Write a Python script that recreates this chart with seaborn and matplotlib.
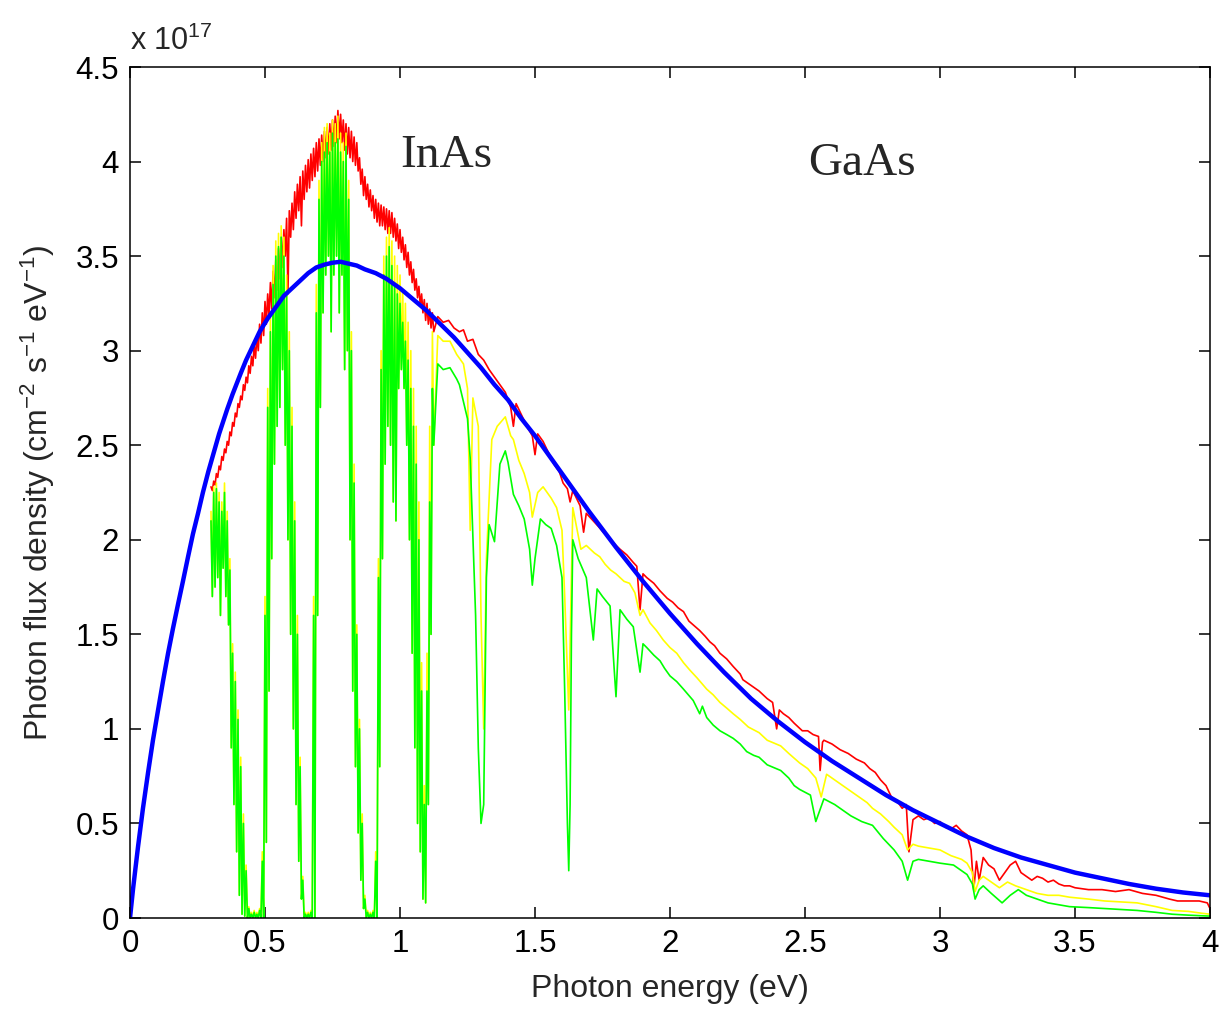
import numpy as np
import pandas as pd
import matplotlib
matplotlib.use("Agg")
import matplotlib.pyplot as plt
import seaborn as sns

# ---------------- data (values in units of 1e17 cm^-2 s^-1 eV^-1) ----------------
# low-energy sampling grid (eV) where spectra are dense/noisy bands
low_e = [0.30, 0.31, 0.32, 0.33, 0.34, 0.35, 0.36, 0.37, 0.38, 0.39,
         0.40, 0.41, 0.42, 0.43, 0.44, 0.45, 0.46, 0.47, 0.48, 0.49,
         0.50, 0.51, 0.52, 0.53, 0.54, 0.55, 0.56, 0.57, 0.58, 0.59,
         0.60, 0.61, 0.62, 0.63, 0.64, 0.65, 0.66, 0.67, 0.68, 0.69,
         0.70, 0.71, 0.72, 0.73, 0.74, 0.75, 0.76, 0.77, 0.78, 0.79,
         0.80, 0.81, 0.82, 0.83, 0.84, 0.85, 0.86, 0.87, 0.88, 0.89,
         0.90, 0.91, 0.92, 0.93, 0.94, 0.95, 0.96, 0.97, 0.98, 0.99,
         1.00, 1.01, 1.02, 1.03, 1.04, 1.05, 1.06, 1.07, 1.08, 1.09,
         1.10, 1.11, 1.12]

green_hi = [2.10, 2.25, 2.27, 2.20, 2.15, 2.25, 2.10, 1.84, 1.40, 1.25,
            1.05, 0.80, 0.50, 0.25, 0.05, 0.02, 0.03, 0.02, 0.04, 0.30,
            1.60, 2.70, 3.10, 3.35, 3.50, 3.55, 3.60, 3.50, 3.30, 3.00,
            2.60, 2.10, 1.50, 0.80, 0.20, 0.02, 0.02, 0.03, 1.60, 3.20,
            3.80, 4.00, 4.05, 4.10, 4.05, 4.15, 4.10, 4.12, 4.05, 4.00,
            4.08, 3.80, 3.00, 2.30, 1.50, 1.00, 0.50, 0.10, 0.03, 0.02,
            0.03, 0.30, 1.80, 2.90, 3.40, 3.50, 3.55, 3.45, 3.35, 3.30,
            3.25, 3.15, 3.05, 2.95, 2.80, 2.60, 2.40, 2.00, 1.20, 0.60,
            1.20, 2.20, 2.80]
green_lo = [1.70, 1.75, 1.80, 1.60, 1.85, 1.70, 1.55, 0.90, 0.60, 0.35,
            0.12, 0.02, 0.01, 0.00, 0.00, 0.00, 0.00, 0.00, 0.00, 0.00,
            0.40, 1.20, 1.90, 2.40, 2.60, 2.70, 2.90, 2.50, 2.00, 1.50,
            1.00, 0.60, 0.30, 0.10, 0.00, 0.00, 0.00, 0.00, 0.00, 1.60,
            2.70, 3.20, 3.40, 3.50, 3.10, 3.40, 3.50, 3.20, 3.40, 2.90,
            3.00, 2.00, 1.20, 0.80, 0.45, 0.20, 0.05, 0.00, 0.00, 0.00,
            0.00, 0.00, 0.80, 1.90, 2.40, 2.60, 2.50, 2.20, 2.10, 2.80,
            2.90, 2.80, 2.50, 2.00, 1.40, 0.90, 0.50, 0.35, 0.10, 0.08,
            0.60, 1.50, 2.50]
yellow_hi = [2.15, 2.28, 2.30, 2.25, 2.20, 2.30, 2.15, 1.90, 1.45, 1.30,
             1.10, 0.85, 0.55, 0.28, 0.06, 0.03, 0.04, 0.03, 0.05, 0.35,
             1.70, 2.80, 3.20, 3.45, 3.58, 3.62, 3.66, 3.60, 3.40, 3.10,
             2.70, 2.20, 1.60, 0.85, 0.22, 0.03, 0.03, 0.04, 1.70, 3.35,
             3.90, 4.10, 4.18, 4.20, 4.15, 4.22, 4.20, 4.24, 4.15, 4.10,
             4.15, 3.90, 3.10, 2.40, 1.55, 1.05, 0.55, 0.12, 0.04, 0.03,
             0.04, 0.35, 1.90, 3.00, 3.50, 3.60, 3.65, 3.58, 3.50, 3.45,
             3.40, 3.32, 3.25, 3.15, 3.00, 2.80, 2.60, 2.20, 1.35, 0.70,
             1.40, 2.60, 3.10]
yellow_lo = green_lo
red_hi = [2.28, 2.31, 2.35, 2.39, 2.44, 2.48, 2.52, 2.57, 2.62, 2.67,
          2.72, 2.76, 2.82, 2.86, 2.92, 2.97, 3.03, 3.08, 3.14, 3.20,
          3.26, 3.30, 3.36, 3.42, 3.48, 3.54, 3.60, 3.64, 3.70, 3.74,
          3.78, 3.84, 3.88, 3.92, 3.95, 3.98, 4.01, 4.04, 4.07, 4.10,
          4.12, 4.14, 4.16, 4.18, 4.20, 4.22, 4.24, 4.27, 4.25, 4.22,
          4.20, 4.18, 4.16, 4.13, 4.10, 4.02, 3.96, 3.92, 3.88, 3.85,
          3.82, 3.80, 3.78, 3.77, 3.76, 3.75, 3.74, 3.73, 3.70, 3.67,
          3.64, 3.60, 3.56, 3.52, 3.47, 3.43, 3.38, 3.34, 3.30, 3.27,
          3.25, 3.22, 3.20]
red_lo = [2.26, 2.29, 2.33, 2.37, 2.42, 2.46, 2.50, 2.55, 2.60, 2.65,
          2.70, 2.74, 2.79, 2.83, 2.88, 2.92, 2.96, 3.00, 3.04, 3.08,
          3.14, 3.18, 3.22, 3.28, 3.32, 3.38, 3.44, 3.50, 3.30, 3.60,
          3.64, 3.70, 3.74, 3.66, 3.80, 3.84, 3.86, 3.90, 3.92, 3.95,
          3.98, 4.00, 4.02, 4.04, 4.06, 4.08, 4.10, 4.12, 4.10, 4.06,
          4.04, 4.02, 4.00, 3.98, 3.95, 3.88, 3.82, 3.80, 3.76, 3.74,
          3.70, 3.68, 3.66, 3.66, 3.64, 3.62, 3.62, 3.60, 3.58, 3.54,
          3.52, 3.48, 3.44, 3.40, 3.36, 3.32, 3.28, 3.24, 3.20, 3.16,
          3.14, 3.12, 3.10]

# high-energy parts (single noisy lines)
red_e2 = [1.14, 1.16, 1.18, 1.20, 1.22, 1.235, 1.25, 1.27, 1.29, 1.31,
          1.33, 1.35, 1.37, 1.39, 1.41, 1.42, 1.43, 1.45, 1.47, 1.49,
          1.50, 1.51, 1.53, 1.55, 1.57, 1.59, 1.604, 1.62, 1.63, 1.64,
          1.667, 1.68, 1.69, 1.716, 1.735, 1.753, 1.78, 1.80, 1.815, 1.84,
          1.864, 1.877, 1.889, 1.90, 1.914, 1.94, 1.963, 1.99, 2.01, 2.03,
          2.05, 2.07, 2.086, 2.11, 2.13, 2.148, 2.165, 2.185, 2.21, 2.234,
          2.26, 2.27, 2.30, 2.33, 2.36, 2.38, 2.395, 2.405, 2.42, 2.44,
          2.46, 2.49, 2.51, 2.53, 2.55, 2.556, 2.565, 2.57, 2.60, 2.63,
          2.66, 2.69, 2.72, 2.74, 2.76, 2.78, 2.80, 2.82, 2.84, 2.86,
          2.875, 2.885, 2.90, 2.92, 2.94, 2.96, 2.98, 3.00, 3.02, 3.04,
          3.06, 3.08, 3.10, 3.115, 3.125, 3.135, 3.145, 3.16, 3.18, 3.20,
          3.22, 3.24, 3.26, 3.28, 3.30, 3.32, 3.34, 3.36, 3.38, 3.40,
          3.42, 3.44, 3.46, 3.48, 3.50, 3.55, 3.60, 3.65, 3.70, 3.75,
          3.80, 3.85, 3.88, 3.92, 3.96, 3.99, 4.00]
red_v2 = [3.18, 3.15, 3.16, 3.12, 3.10, 3.11, 3.05, 3.06, 2.98, 2.95,
          2.90, 2.86, 2.82, 2.78, 2.70, 2.60, 2.72, 2.66, 2.60, 2.55,
          2.45, 2.56, 2.52, 2.46, 2.40, 2.36, 2.30, 2.27, 2.20, 2.26,
          2.18, 2.04, 2.14, 2.10, 2.07, 2.04, 2.00, 1.97, 1.95, 1.92,
          1.88, 1.86, 1.63, 1.82, 1.80, 1.77, 1.73, 1.69, 1.67, 1.64,
          1.62, 1.57, 1.55, 1.52, 1.49, 1.46, 1.44, 1.40, 1.37, 1.33,
          1.29, 1.26, 1.23, 1.20, 1.16, 1.14, 1.00, 1.10, 1.08, 1.06,
          1.03, 0.99, 0.99, 0.97, 0.96, 0.78, 0.93, 0.94, 0.92, 0.89,
          0.87, 0.84, 0.82, 0.79, 0.77, 0.73, 0.70, 0.64, 0.62, 0.58,
          0.60, 0.35, 0.52, 0.54, 0.52, 0.53, 0.50, 0.51, 0.48, 0.47,
          0.49, 0.46, 0.44, 0.36, 0.15, 0.30, 0.20, 0.32, 0.28, 0.26,
          0.20, 0.24, 0.28, 0.30, 0.24, 0.22, 0.20, 0.22, 0.21, 0.19,
          0.20, 0.18, 0.17, 0.17, 0.16, 0.15, 0.15, 0.14, 0.15, 0.13,
          0.12, 0.10, 0.09, 0.09, 0.09, 0.08, 0.05]

yellow_e2 = [1.14, 1.16, 1.185, 1.21, 1.235, 1.25, 1.26, 1.27, 1.29, 1.30,
             1.31, 1.32, 1.34, 1.36, 1.39, 1.41, 1.42, 1.44, 1.46, 1.48,
             1.49, 1.51, 1.53, 1.56, 1.58, 1.60, 1.61, 1.625, 1.635, 1.64,
             1.67, 1.69, 1.72, 1.74, 1.76, 1.78, 1.80, 1.815, 1.83, 1.85,
             1.87, 1.889, 1.90, 1.926, 1.95, 1.975, 2.00, 2.025, 2.05, 2.074,
             2.10, 2.136, 2.16, 2.185, 2.21, 2.234, 2.26, 2.29, 2.33, 2.36,
             2.41, 2.44, 2.48, 2.51, 2.54, 2.56, 2.58, 2.61, 2.64, 2.67,
             2.70, 2.73, 2.75, 2.78, 2.81, 2.83, 2.86, 2.88, 2.90, 2.92,
             2.96, 3.00, 3.04, 3.08, 3.10, 3.12, 3.13, 3.145, 3.16, 3.19,
             3.22, 3.25, 3.28, 3.32, 3.36, 3.40, 3.44, 3.48, 3.55, 3.61,
             3.67, 3.73, 3.80, 3.86, 3.92, 3.97, 4.00]
yellow_v2 = [3.08, 3.05, 3.05, 2.98, 2.93, 2.80, 2.05, 2.75, 2.60, 1.60,
             1.00, 1.90, 2.53, 2.60, 2.65, 2.55, 2.53, 2.42, 2.35, 2.25,
             2.12, 2.25, 2.28, 2.22, 2.17, 2.05, 1.70, 1.10, 1.80, 2.17,
             1.95, 1.97, 1.93, 1.91, 1.87, 1.84, 1.82, 1.80, 1.78, 1.77,
             1.72, 1.60, 1.63, 1.56, 1.52, 1.47, 1.43, 1.40, 1.35, 1.31,
             1.27, 1.21, 1.18, 1.14, 1.11, 1.08, 1.05, 1.01, 0.98, 0.94,
             0.91, 0.87, 0.82, 0.79, 0.74, 0.64, 0.76, 0.73, 0.70, 0.67,
             0.64, 0.61, 0.58, 0.55, 0.51, 0.48, 0.44, 0.36, 0.39, 0.38,
             0.37, 0.36, 0.33, 0.31, 0.29, 0.24, 0.14, 0.20, 0.22, 0.19,
             0.16, 0.19, 0.17, 0.15, 0.13, 0.12, 0.12, 0.11, 0.10, 0.09,
             0.085, 0.08, 0.06, 0.04, 0.035, 0.025, 0.02]

green_e2 = [1.14, 1.16, 1.185, 1.21, 1.22, 1.24, 1.25, 1.26, 1.27, 1.28,
            1.29, 1.30, 1.31, 1.315, 1.32, 1.33, 1.35, 1.37, 1.39, 1.40,
            1.42, 1.44, 1.46, 1.48, 1.49, 1.50, 1.52, 1.54, 1.56, 1.58,
            1.60, 1.61, 1.62, 1.625, 1.63, 1.635, 1.64, 1.66, 1.69, 1.716,
            1.73, 1.75, 1.778, 1.80, 1.815, 1.84, 1.864, 1.889, 1.90, 1.914,
            1.94, 1.963, 1.98, 2.00, 2.025, 2.05, 2.086, 2.11, 2.12, 2.136,
            2.16, 2.185, 2.21, 2.234, 2.26, 2.284, 2.31, 2.33, 2.36, 2.41,
            2.44, 2.46, 2.48, 2.52, 2.54, 2.57, 2.61, 2.64, 2.67, 2.71,
            2.75, 2.79, 2.83, 2.86, 2.88, 2.90, 2.92, 2.96, 3.00, 3.05,
            3.08, 3.10, 3.12, 3.13, 3.145, 3.16, 3.19, 3.23, 3.26, 3.29,
            3.32, 3.36, 3.40, 3.44, 3.48, 3.55, 3.61, 3.67, 3.73, 3.80,
            3.86, 3.92, 4.00]
green_v2 = [2.93, 2.90, 2.91, 2.85, 2.82, 2.70, 2.64, 2.43, 2.02, 1.60,
            0.90, 0.50, 0.60, 1.20, 1.80, 2.08, 1.99, 2.40, 2.47, 2.41,
            2.24, 2.18, 2.11, 1.95, 1.76, 1.90, 2.11, 2.08, 2.06, 1.97,
            1.80, 1.20, 0.50, 0.25, 0.60, 1.50, 2.00, 1.90, 1.80, 1.47,
            1.74, 1.70, 1.65, 1.17, 1.63, 1.58, 1.54, 1.30, 1.45, 1.43,
            1.39, 1.36, 1.32, 1.28, 1.25, 1.21, 1.15, 1.08, 1.12, 1.06,
            1.02, 0.99, 0.97, 0.95, 0.92, 0.88, 0.86, 0.85, 0.81, 0.78,
            0.74, 0.70, 0.68, 0.65, 0.51, 0.63, 0.60, 0.57, 0.54, 0.51,
            0.49, 0.42, 0.36, 0.30, 0.20, 0.30, 0.31, 0.30, 0.29, 0.28,
            0.25, 0.23, 0.18, 0.10, 0.15, 0.17, 0.13, 0.08, 0.12, 0.15,
            0.12, 0.10, 0.08, 0.07, 0.06, 0.055, 0.05, 0.045, 0.04, 0.03,
            0.02, 0.015, 0.01]

blue_e = [0, 0.011, 0.02, 0.03, 0.048, 0.067, 0.085, 0.104, 0.122,
          0.141, 0.159, 0.178, 0.196, 0.215, 0.233, 0.252, 0.27, 0.29, 0.31,
          0.33, 0.36, 0.38, 0.41, 0.43, 0.46, 0.48, 0.51, 0.54, 0.57,
          0.60, 0.63, 0.66, 0.69, 0.72, 0.75, 0.78, 0.81, 0.84, 0.87,
          0.91, 0.95, 1.0, 1.05, 1.1, 1.15, 1.2, 1.25, 1.3, 1.35,
          1.4, 1.45, 1.5, 1.55, 1.6, 1.7, 1.8, 1.9, 2.0, 2.1,
          2.2, 2.3, 2.4, 2.5, 2.6, 2.7, 2.8, 2.9, 3.0, 3.1,
          3.2, 3.3, 3.4, 3.5, 3.6, 3.7, 3.8, 3.9, 4.0]
blue_v = [0, 0.15, 0.26, 0.38, 0.58, 0.77, 0.94, 1.10, 1.25,
          1.40, 1.53, 1.66, 1.78, 1.91, 2.03, 2.14, 2.25, 2.36, 2.46,
          2.56, 2.69, 2.77, 2.88, 2.95, 3.04, 3.10, 3.17, 3.23, 3.29,
          3.33, 3.37, 3.41, 3.44, 3.455, 3.465, 3.47, 3.46, 3.45, 3.43,
          3.41, 3.38, 3.33, 3.27, 3.21, 3.14, 3.07, 2.99, 2.91, 2.82,
          2.74, 2.64, 2.55, 2.45, 2.35, 2.15, 1.96, 1.78, 1.61, 1.45,
          1.30, 1.16, 1.04, 0.93, 0.83, 0.74, 0.65, 0.57, 0.50, 0.43,
          0.37, 0.32, 0.28, 0.24, 0.21, 0.18, 0.155, 0.135, 0.12]

x_ticks = [0, 0.5, 1, 1.5, 2, 2.5, 3, 3.5, 4]
x_ticklabels = ["0", "0.5", "1", "1.5", "2", "2.5", "3", "3.5", "4"]
y_ticks = [0, 0.5, 1, 1.5, 2, 2.5, 3, 3.5, 4, 4.5]
y_ticklabels = ["0", "0.5", "1", "1.5", "2", "2.5", "3", "3.5", "4", "4.5"]
annotations = [("InAs", 1.0, 3.97), ("GaAs", 2.51, 3.93)]


def band(e, hi, lo, e2, v2):
    """zig-zag between read upper/lower envelope values, then the single line part"""
    e = np.asarray(e)
    xs = np.ravel(np.column_stack([e, e + 0.005]))
    ys = np.ravel(np.column_stack([hi, lo]))
    return pd.DataFrame({"E": np.concatenate([xs, e2]), "F": np.concatenate([ys, v2])})


# ---------------- style ----------------
sns.set_style("ticks")
plt.rcParams["font.family"] = ["Liberation Sans", "DejaVu Sans"]
plt.rcParams["mathtext.default"] = "regular"

fig = plt.figure(figsize=(12.23, 10.10), dpi=100)
fig.patch.set_facecolor("white")
ax = fig.add_axes([130 / 1223, 1 - 918 / 1010, 1080 / 1223, 851 / 1010])
ax.set_facecolor("white")

series = [
    (band(low_e, red_hi, red_lo, red_e2, red_v2), "#ff0000", 1.2),
    (band(low_e, yellow_hi, yellow_lo, yellow_e2, yellow_v2), "#ffff00", 1.2),
    (band(low_e, green_hi, green_lo, green_e2, green_v2), "#00ff00", 1.2),
    (pd.DataFrame({"E": blue_e, "F": blue_v}), "#0000ff", 3.2),
]
for df, col, lw in series:
    sns.lineplot(data=df, x="E", y="F", ax=ax, color=col, lw=lw, sort=False,
                 estimator=None, legend=False)

ax.set_xlim(0, 4)
ax.set_ylim(0, 4.5)
ax.set_xticks(x_ticks)
ax.set_xticklabels(x_ticklabels)
ax.set_yticks(y_ticks)
ax.set_yticklabels(y_ticklabels)
ax.tick_params(direction="in", length=8, width=1.1, top=True, right=True,
               labelsize=22.5, pad=8, colors="black")
for sp in ax.spines.values():
    sp.set_visible(True)
    sp.set_linewidth(1.1)
    sp.set_color("black")

ax.set_xlabel("Photon energy (eV)", fontsize=23)
ax.set_ylabel(r"Photon flux density (cm$^{-2}$ s$^{-1}$ eV$^{-1}$)", fontsize=23)
ax.xaxis.set_label_coords(0.5, -0.066)
ax.yaxis.set_label_coords(-0.068, 0.5)

fig.text(130 / 1223, 1 - 50 / 1010, r"x 10$^{17}$", fontsize=22, ha="left", va="baseline")

for txt, xe, yv in annotations:
    ax.text(xe, yv, txt, fontsize=34, family=["Liberation Serif", "DejaVu Serif"],
            ha="left", va="baseline")

fig.savefig("out.png", dpi=100)
